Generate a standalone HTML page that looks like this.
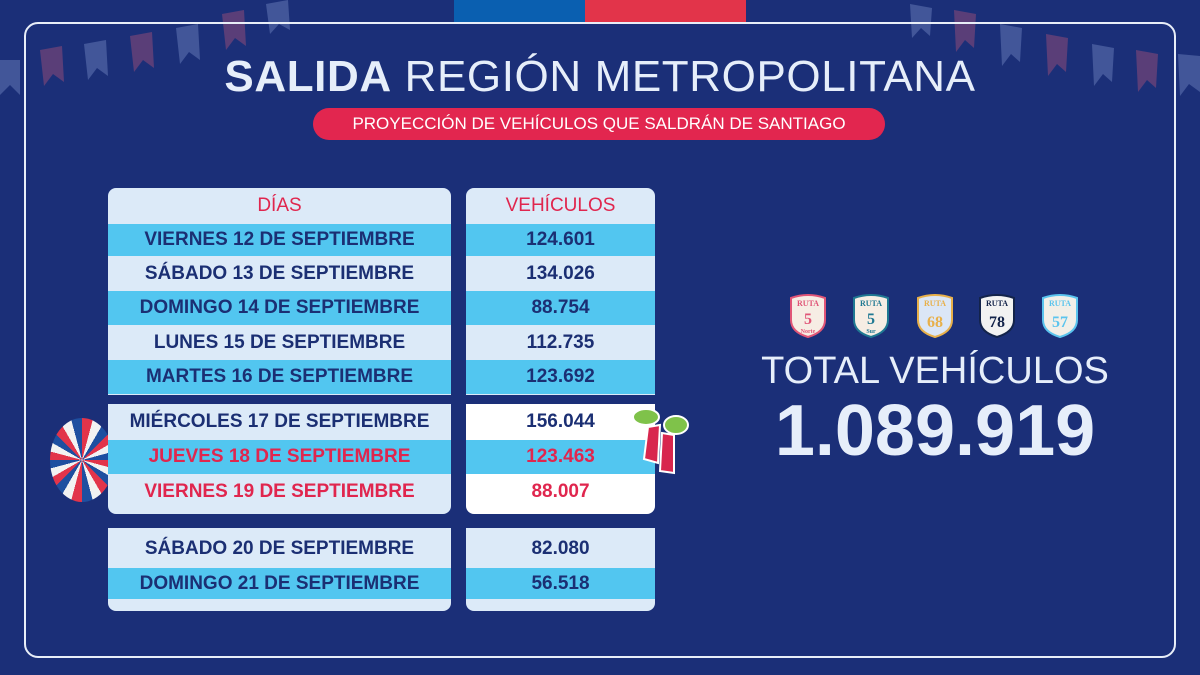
<!DOCTYPE html>
<html><head><meta charset="utf-8"><style>
*{margin:0;padding:0;box-sizing:border-box}
body{width:1200px;height:675px;background:#1b2f78;position:relative;overflow:hidden;font-family:"Liberation Sans",sans-serif}
.a{position:absolute}
.cell{position:absolute;display:flex;align-items:center;justify-content:center;font-weight:bold;font-size:19px;color:#1b2f73;white-space:nowrap}
.L{background:#dceaf8}.C{background:#52c6f0}.W{background:#ffffff}
.red{color:#e0264e}
</style></head><body>
<svg class="a" style="left:0;top:0;opacity:0.35" width="320" height="110" viewBox="0 0 320 110">
<g fill="#8aa0d8"><path d="M0 60 L20 60 L20 95 L10 85 L0 95Z"/><path d="M40 50 L62 46 L64 82 L53 74 L44 86Z" fill="#d05a7a"/><path d="M84 44 L106 40 L108 76 L97 68 L88 80Z"/><path d="M130 36 L152 32 L154 68 L143 60 L134 72Z" fill="#d05a7a"/><path d="M176 28 L198 24 L200 60 L189 52 L180 64Z"/><path d="M222 14 L244 10 L246 46 L235 38 L226 50Z" fill="#d05a7a"/><path d="M266 4 L288 0 L290 30 L279 24 L270 34Z"/></g></svg>
<svg class="a" style="left:880px;top:0;opacity:0.35" width="320" height="110" viewBox="0 0 320 110">
<g fill="#8aa0d8"><path d="M30 4 L52 8 L50 36 L41 28 L32 38Z"/><path d="M74 10 L96 14 L94 48 L85 40 L76 52Z" fill="#d05a7a"/><path d="M120 24 L142 28 L140 62 L131 54 L122 66Z"/><path d="M166 34 L188 38 L186 72 L177 64 L168 76Z" fill="#d05a7a"/><path d="M212 44 L234 48 L232 82 L223 74 L214 86Z"/><path d="M256 50 L278 54 L276 88 L267 80 L258 92Z" fill="#d05a7a"/><path d="M298 54 L320 56 L320 92 L309 84 L300 96Z"/></g></svg>
<div class="a" style="left:454px;top:0;width:131px;height:22px;background:#0a5fb0"></div>
<div class="a" style="left:585px;top:0;width:161px;height:22px;background:#e2344a"></div>
<div class="a" style="left:24px;top:22px;width:1152px;height:636px;border:2px solid #e8eef8;border-radius:14px"></div>

<div class="a" style="left:0;top:52px;width:1200px;text-align:center;font-size:44px;letter-spacing:0.6px;color:#e6eefa;white-space:nowrap"><b>SALIDA</b> REGIÓN METROPOLITANA</div>
<div class="a" style="left:313px;top:108px;width:572px;height:32px;background:#e2264f;border-radius:16px;color:#fff;font-size:17px;display:flex;align-items:center;justify-content:center">PROYECCIÓN DE VEHÍCULOS QUE SALDRÁN DE SANTIAGO</div>

<div class="a" style="left:50px;top:418px;width:64px;height:84px;border-radius:50%;background:repeating-conic-gradient(#e2344a 0 15deg,#f2f2f2 15deg 30deg,#1e4fa0 30deg 45deg)"></div>

<div class="a L" style="left:108px;top:188px;width:343px;height:207px;border-radius:8px 8px 0 0"></div>
<div class="a L" style="left:466px;top:188px;width:189px;height:207px;border-radius:8px 8px 0 0"></div>
<div class="cell red" style="left:108px;top:188px;width:343px;height:36px;font-weight:normal;font-size:19px">DÍAS</div>
<div class="cell red" style="left:466px;top:188px;width:189px;height:36px;font-weight:normal;font-size:19px">VEHÍCULOS</div>

<div class="cell C" style="left:108px;top:224px;width:343px;height:32px">VIERNES 12 DE SEPTIEMBRE</div>
<div class="cell C" style="left:466px;top:224px;width:189px;height:32px">124.601</div>
<div class="cell L" style="left:108px;top:256px;width:343px;height:35px">SÁBADO 13 DE SEPTIEMBRE</div>
<div class="cell L" style="left:466px;top:256px;width:189px;height:35px">134.026</div>
<div class="cell C" style="left:108px;top:291px;width:343px;height:34px">DOMINGO 14 DE SEPTIEMBRE</div>
<div class="cell C" style="left:466px;top:291px;width:189px;height:34px">88.754</div>
<div class="cell L" style="left:108px;top:325px;width:343px;height:35px">LUNES 15 DE SEPTIEMBRE</div>
<div class="cell L" style="left:466px;top:325px;width:189px;height:35px">112.735</div>
<div class="cell C" style="left:108px;top:360px;width:343px;height:34px">MARTES 16 DE SEPTIEMBRE</div>
<div class="cell C" style="left:466px;top:360px;width:189px;height:34px">123.692</div>

<div class="a L" style="left:108px;top:404px;width:343px;height:110px;border-radius:0 0 8px 8px"></div>
<div class="a W" style="left:466px;top:404px;width:189px;height:110px;border-radius:0 0 8px 8px"></div>
<div class="cell" style="left:108px;top:404px;width:343px;height:36px">MIÉRCOLES 17 DE SEPTIEMBRE</div>
<div class="cell" style="left:466px;top:404px;width:189px;height:36px">156.044</div>
<div class="cell C red" style="left:108px;top:440px;width:343px;height:34px">JUEVES 18 DE SEPTIEMBRE</div>
<div class="cell C red" style="left:466px;top:440px;width:189px;height:34px">123.463</div>
<div class="cell red" style="left:108px;top:474px;width:343px;height:36px">VIERNES 19 DE SEPTIEMBRE</div>
<div class="cell red" style="left:466px;top:474px;width:189px;height:36px">88.007</div>

<div class="a L" style="left:108px;top:528px;width:343px;height:83px;border-radius:0 0 8px 8px"></div>
<div class="a L" style="left:466px;top:528px;width:189px;height:83px;border-radius:0 0 8px 8px"></div>
<div class="cell" style="left:108px;top:530px;width:343px;height:38px">SÁBADO 20 DE SEPTIEMBRE</div>
<div class="cell" style="left:466px;top:530px;width:189px;height:38px">82.080</div>
<div class="cell C" style="left:108px;top:568px;width:343px;height:31px">DOMINGO 21 DE SEPTIEMBRE</div>
<div class="cell C" style="left:466px;top:568px;width:189px;height:31px">56.518</div>

<svg class="a" style="left:630px;top:405px" width="62" height="72" viewBox="0 0 62 72">
<ellipse cx="16" cy="12" rx="13" ry="8" fill="#7fc24a" stroke="#fff" stroke-width="2"/>
<ellipse cx="46" cy="20" rx="12" ry="9" fill="#7fc24a" stroke="#fff" stroke-width="2"/>
<path d="M18 22 L30 20 L28 58 L14 54 Z" fill="#d8264e" stroke="#fff" stroke-width="2"/>
<path d="M32 28 L44 30 L44 68 L30 66 Z" fill="#d8264e" stroke="#fff" stroke-width="2"/>
</svg>

<svg class="a" style="left:780px;top:294px" width="310" height="44" viewBox="0 0 310 44">
<g font-family="Liberation Serif,serif" font-weight="bold" text-anchor="middle">
<g transform="translate(28,0)"><path d="M-17 4 Q0 -2 17 4 L17 26 Q17 38 0 43 Q-17 38 -17 26 Z" fill="#f6ede4" stroke="#e05577" stroke-width="2"/><text x="0" y="12" font-size="8" fill="#e05577">RUTA</text><text x="0" y="30" font-size="16" fill="#e05577">5</text><text x="0" y="39" font-size="6" fill="#e05577">Norte</text></g>
<g transform="translate(91,0)"><path d="M-17 4 Q0 -2 17 4 L17 26 Q17 38 0 43 Q-17 38 -17 26 Z" fill="#f6ede4" stroke="#1f7892" stroke-width="2"/><text x="0" y="12" font-size="8" fill="#1f7892">RUTA</text><text x="0" y="30" font-size="16" fill="#1f7892">5</text><text x="0" y="39" font-size="6" fill="#1f7892">Sur</text></g>
<g transform="translate(155,0)"><path d="M-17 4 Q0 -2 17 4 L17 26 Q17 38 0 43 Q-17 38 -17 26 Z" fill="#dbe6f6" stroke="#e8b04a" stroke-width="2"/><text x="0" y="12" font-size="8" fill="#e8b04a">RUTA</text><text x="0" y="33" font-size="16" fill="#e8b04a">68</text></g>
<g transform="translate(217,0)"><path d="M-17 4 Q0 -2 17 4 L17 26 Q17 38 0 43 Q-17 38 -17 26 Z" fill="#f2f2f2" stroke="#13234a" stroke-width="2"/><text x="0" y="12" font-size="8" fill="#13234a">RUTA</text><text x="0" y="33" font-size="16" fill="#13234a">78</text></g>
<g transform="translate(280,0)"><path d="M-17 4 Q0 -2 17 4 L17 26 Q17 38 0 43 Q-17 38 -17 26 Z" fill="#f2efe8" stroke="#5bc4ee" stroke-width="2"/><text x="0" y="12" font-size="8" fill="#5bc4ee">RUTA</text><text x="0" y="33" font-size="16" fill="#5bc4ee">57</text></g>
</g></svg>

<div class="a" style="left:735px;top:350px;width:400px;text-align:center;font-size:38px;color:#e6eefa;white-space:nowrap">TOTAL VEHÍCULOS</div>
<div class="a" style="left:735px;top:390px;width:400px;text-align:center;font-size:72px;font-weight:bold;color:#e6eefa;white-space:nowrap">1.089.919</div>
</body></html>
